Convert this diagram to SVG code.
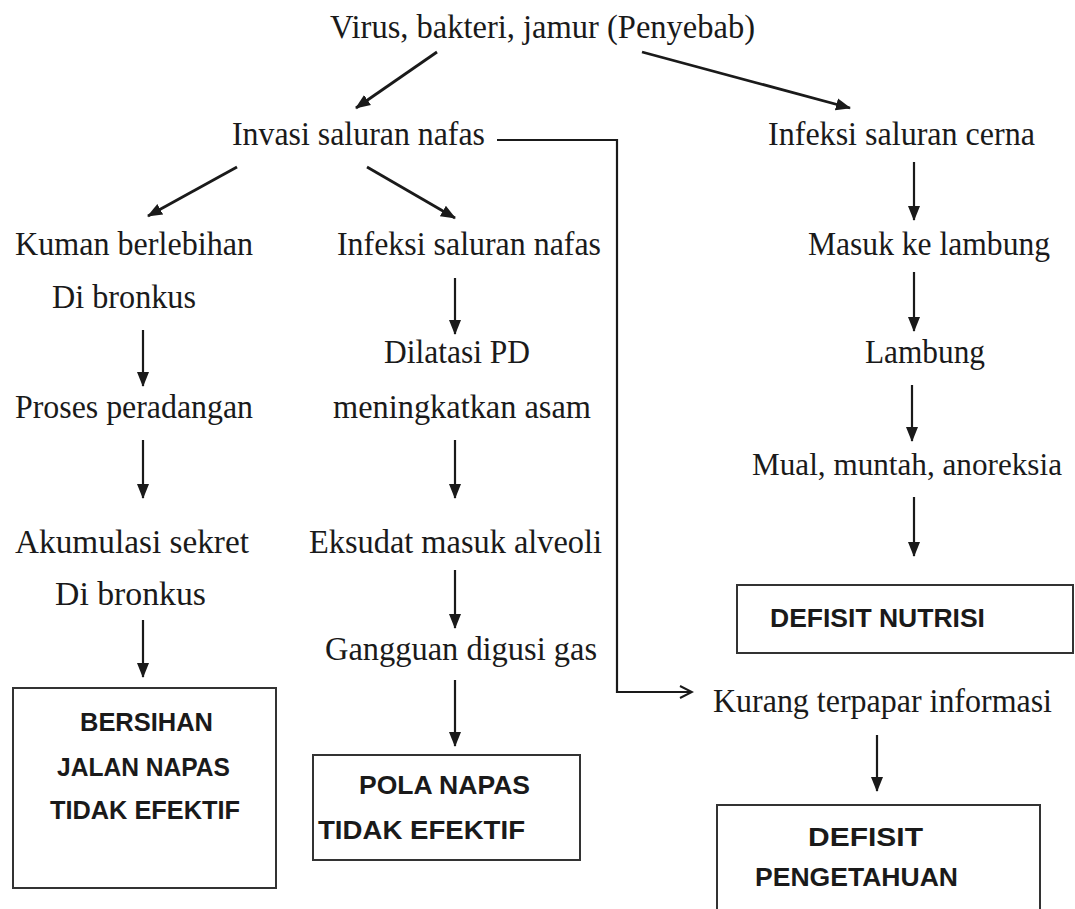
<svg xmlns="http://www.w3.org/2000/svg" width="1075" height="909" viewBox="0 0 1075 909">
<style>
.t{font-family:"Liberation Serif","Times New Roman",serif;font-size:33px;fill:#1a1a1a}
.b{font-family:"Liberation Sans",Arial,sans-serif;font-weight:bold;font-size:26px;fill:#1a1a1a}
.c{stroke:#1a1a1a;stroke-width:2.2;fill:none}
.k{stroke-width:2.8}
.box{fill:#fff;stroke:#333;stroke-width:2}
</style>
<defs>
<marker id="ah" markerUnits="userSpaceOnUse" markerWidth="16" markerHeight="16" viewBox="0 0 16 16" refX="14" refY="8" orient="auto">
<path d="M0,2 L15,8 L0,14 Z" fill="#1a1a1a"/>
</marker>
<marker id="oh" markerUnits="userSpaceOnUse" markerWidth="16" markerHeight="16" viewBox="0 0 16 16" refX="14" refY="8" orient="auto">
<path d="M2,2 L14,8 L2,14" fill="none" stroke="#1a1a1a" stroke-width="2"/>
</marker>
</defs>
<rect width="1075" height="909" fill="#fff"/>
<g id="connectors">
<line class="c k" x1="437" y1="52" x2="356" y2="108" marker-end="url(#ah)"/>
<line class="c k" x1="642" y1="52" x2="850" y2="108" marker-end="url(#ah)"/>
<line class="c k" x1="237" y1="167" x2="148" y2="216" marker-end="url(#ah)"/>
<line class="c k" x1="367" y1="167" x2="455" y2="218" marker-end="url(#ah)"/>
<line class="c" x1="914" y1="162" x2="914" y2="220" marker-end="url(#ah)"/>
<line class="c" x1="143" y1="330" x2="143" y2="386" marker-end="url(#ah)"/>
<line class="c" x1="143" y1="440" x2="143" y2="498" marker-end="url(#ah)"/>
<line class="c" x1="143" y1="620" x2="143" y2="677" marker-end="url(#ah)"/>
<line class="c" x1="455" y1="278" x2="455" y2="334" marker-end="url(#ah)"/>
<line class="c" x1="455" y1="440" x2="455" y2="498" marker-end="url(#ah)"/>
<line class="c" x1="455" y1="570" x2="455" y2="628" marker-end="url(#ah)"/>
<line class="c" x1="455" y1="680" x2="455" y2="746" marker-end="url(#ah)"/>
<line class="c" x1="914" y1="272" x2="914" y2="331" marker-end="url(#ah)"/>
<line class="c" x1="912" y1="385" x2="912" y2="441" marker-end="url(#ah)"/>
<line class="c" x1="914" y1="497" x2="914" y2="556" marker-end="url(#ah)"/>
<line class="c" x1="877" y1="735" x2="877" y2="791" marker-end="url(#ah)"/>
<polyline class="c" points="497,140 617,140 617,692 692,692" marker-end="url(#oh)"/>
</g>
<g id="n-virus"><text class="t" x="330" y="38" textLength="425" lengthAdjust="spacingAndGlyphs">Virus, bakteri, jamur (Penyebab)</text></g>
<g id="n-invasi"><text class="t" x="232" y="145" textLength="253" lengthAdjust="spacingAndGlyphs">Invasi saluran nafas</text></g>
<g id="n-cerna"><text class="t" x="768" y="145" textLength="267" lengthAdjust="spacingAndGlyphs">Infeksi saluran cerna</text></g>
<g id="n-kuman">
<text class="t" x="15" y="255" textLength="238" lengthAdjust="spacingAndGlyphs">Kuman berlebihan</text>
<text class="t" x="52" y="308" textLength="144" lengthAdjust="spacingAndGlyphs">Di bronkus</text>
</g>
<g id="n-infeksi-nafas"><text class="t" x="337" y="255" textLength="264" lengthAdjust="spacingAndGlyphs">Infeksi saluran nafas</text></g>
<g id="n-masuk"><text class="t" x="808" y="255" textLength="242" lengthAdjust="spacingAndGlyphs">Masuk ke lambung</text></g>
<g id="n-dilatasi">
<text class="t" x="384" y="363" textLength="146" lengthAdjust="spacingAndGlyphs">Dilatasi PD</text>
<text class="t" x="333" y="418" textLength="258" lengthAdjust="spacingAndGlyphs">meningkatkan asam</text>
</g>
<g id="n-lambung"><text class="t" x="865" y="363" textLength="120" lengthAdjust="spacingAndGlyphs">Lambung</text></g>
<g id="n-proses"><text class="t" x="15" y="418" textLength="238" lengthAdjust="spacingAndGlyphs">Proses peradangan</text></g>
<g id="n-mual"><text class="t" x="752" y="475" style="font-size:31px" textLength="310" lengthAdjust="spacingAndGlyphs">Mual, muntah, anoreksia</text></g>
<g id="n-akumulasi">
<text class="t" x="15" y="553" textLength="234" lengthAdjust="spacingAndGlyphs">Akumulasi sekret</text>
<text class="t" x="55" y="605" textLength="151" lengthAdjust="spacingAndGlyphs">Di bronkus</text>
</g>
<g id="n-eksudat"><text class="t" x="309" y="553" textLength="293" lengthAdjust="spacingAndGlyphs">Eksudat masuk alveoli</text></g>
<g id="n-gangguan"><text class="t" x="325" y="660" textLength="272" lengthAdjust="spacingAndGlyphs">Gangguan digusi gas</text></g>
<g id="n-kurang"><text class="t" x="713" y="712" textLength="339" lengthAdjust="spacingAndGlyphs">Kurang terpapar informasi</text></g>
<g id="n-bersihan">
<rect class="box" x="13" y="688" width="263" height="200"/>
<text class="b" x="80" y="731" textLength="133" lengthAdjust="spacingAndGlyphs">BERSIHAN</text>
<text class="b" x="57" y="776" textLength="173" lengthAdjust="spacingAndGlyphs">JALAN NAPAS</text>
<text class="b" x="50" y="819" textLength="190" lengthAdjust="spacingAndGlyphs">TIDAK EFEKTIF</text>
</g>
<g id="n-pola">
<rect class="box" x="313" y="755" width="267" height="105"/>
<text class="b" x="359" y="794" textLength="171" lengthAdjust="spacingAndGlyphs">POLA NAPAS</text>
<text class="b" x="318" y="839" textLength="207" lengthAdjust="spacingAndGlyphs">TIDAK EFEKTIF</text>
</g>
<g id="n-nutrisi">
<rect class="box" x="737" y="585" width="336" height="68"/>
<text class="b" x="770" y="627" textLength="215" lengthAdjust="spacingAndGlyphs">DEFISIT NUTRISI</text>
</g>
<g id="n-pengetahuan">
<rect class="box" x="717" y="805" width="323" height="110"/>
<text class="b" x="808" y="846" textLength="115" lengthAdjust="spacingAndGlyphs">DEFISIT</text>
<text class="b" x="755" y="886" textLength="203" lengthAdjust="spacingAndGlyphs">PENGETAHUAN</text>
</g>
</svg>
